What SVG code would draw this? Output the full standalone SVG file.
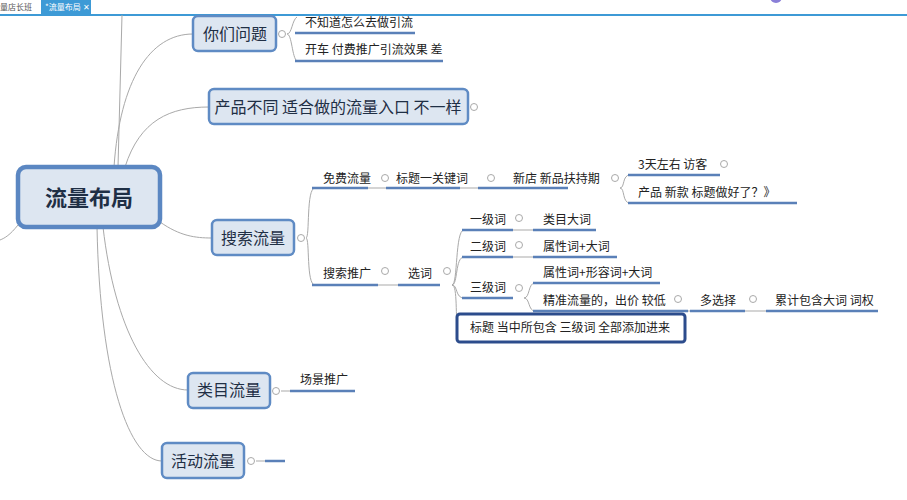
<svg xmlns="http://www.w3.org/2000/svg" width="907" height="500" viewBox="0 0 907 500">
<style>
text{font-family:"Noto Sans CJK SC",sans-serif;fill:#222}
.n{fill:#dde6f1;stroke:#5f8bc4;stroke-width:2.5}
.nt{font-size:16px;fill:#1f2f45;text-anchor:middle}
.s{font-size:12px}
.u{stroke:#5a80b8;stroke-width:2.5}
.c{fill:none;stroke:#a9a9a9;stroke-width:1}
.o{fill:#fff;stroke:#a9a9a9;stroke-width:1}
</style>
<rect width="907" height="500" fill="#fff"/>
<g id="tabs">
<text x="0" y="10" style="font-size:8px;fill:#555">量店长班</text>
<rect x="41" y="0" width="50" height="14" fill="#3d9ad6"/>
<text x="45" y="10" style="font-size:8px;fill:#fff">*流量布局 ✕</text>
<line x1="0" y1="15" x2="907" y2="15" stroke="#3d9ad6" stroke-width="2"/>
<circle cx="776" cy="-3" r="6" fill="#8a7fd8"/>
</g>
<g id="connectors" class="c">
<path d="M118 167 L122 15"/>
<path d="M114 167 C120 80 150 34 193 34"/>
<path d="M125 167 C140 120 170 107 209 107"/>
<path d="M160 222 C180 236 195 238 212 238"/>
<path d="M103 227 C115 330 150 390 188 390"/>
<path d="M97 227 C100 380 130 461 162 461"/>
<path d="M18 225 C10 235 5 238 0 240"/>
<path d="M287 34 C292 34 292 20 297 17 M287 34 C292 34 292 58 297 61"/>
<path d="M306 238 C310 238 306 188 315 188 M306 238 C310 238 306 285 315 285"/>
<path d="M368 188 L386 188 M460 188 L478 188 M378 285 L398 285"/>
<path d="M620 188 C625 188 622 175 630 175 M620 188 C625 188 622 203 630 203"/>
<path d="M452 285 C458 285 455 230 464 230 M452 285 C458 285 455 257 464 257 M452 285 C458 285 455 298 464 298 M452 285 C458 285 455 320 458 330"/>
<path d="M513 230 L533 230 M513 257 L533 257"/>
<path d="M524 298 C530 298 528 283 535 283 M524 298 C530 298 528 311 535 311"/>
<path d="M688 311 L690 311 M745 311 L766 311"/>
<path d="M281 391 L290 391 M256 461 L265 461"/>
</g>
<g id="root"><rect x="18" y="167" width="142" height="60" rx="8" fill="#dde6f1" stroke="#5b87c2" stroke-width="4.5"/><text x="89" y="206" class="nt" style="font-size:22px;font-weight:bold">流量布局</text></g>
<g id="wenti"><rect class="n" x="193" y="16" width="83" height="35" rx="5"/><text class="nt" x="235" y="40">你们问题</text><circle class="o" cx="282" cy="34" r="3.5"/></g>
<g id="w1"><text class="s" x="305" y="27">不知道怎么去做引流</text><line class="u" x1="295" y1="33" x2="415" y2="33"/></g>
<g id="w2"><text class="s" x="305" y="54">开车 付费推广引流效果 差</text><line class="u" x1="295" y1="61" x2="443" y2="61"/></g>
<g id="chanpin"><rect class="n" x="209" y="89" width="259" height="35" rx="5"/><text class="nt" x="338" y="113">产品不同   适合做的流量入口 不一样</text><circle class="o" cx="474" cy="107" r="3.5"/></g>
<g id="sousuo"><rect class="n" x="212" y="220" width="82" height="35" rx="5"/><text class="nt" x="253" y="244">搜索流量</text><circle class="o" cx="301" cy="238" r="3.5"/></g>
<g id="mianfei"><text class="s" x="323" y="183">免费流量</text><line class="u" x1="312" y1="188" x2="368" y2="188"/><circle class="o" cx="385" cy="178" r="3.5"/></g>
<g id="biaoti"><text class="s" x="396" y="183">标题一关键词</text><line class="u" x1="386" y1="188" x2="460" y2="188"/><circle class="o" cx="491" cy="178" r="3.5"/></g>
<g id="xindian"><text class="s" x="513" y="183">新店  新品扶持期</text><line class="u" x1="478" y1="188" x2="568" y2="188"/><circle class="o" cx="615" cy="178" r="3.5"/></g>
<g id="fangke"><text class="s" x="638" y="169">3天左右  访客</text><line class="u" x1="628" y1="175" x2="720" y2="175"/><circle class="o" cx="724" cy="164" r="3.5"/></g>
<g id="xinkuan"><text class="s" x="638" y="197">产品    新款     标题做好了？》</text><line class="u" x1="628" y1="203" x2="797" y2="203"/></g>
<g id="tuiguang"><text class="s" x="323" y="278">搜索推广</text><line class="u" x1="312" y1="285" x2="378" y2="285"/><circle class="o" cx="385" cy="271" r="3.5"/></g>
<g id="xuanci"><text class="s" x="408" y="278">选词</text><line class="u" x1="398" y1="285" x2="440" y2="285"/><circle class="o" cx="447" cy="271" r="3.5"/></g>
<g id="yiji"><text class="s" x="470" y="224">一级词</text><line class="u" x1="462" y1="230" x2="513" y2="230"/><circle class="o" cx="519" cy="218" r="3.5"/></g>
<g id="leimudaci"><text class="s" x="543" y="224">类目大词</text><line class="u" x1="533" y1="230" x2="596" y2="230"/></g>
<g id="erji"><text class="s" x="470" y="251">二级词</text><line class="u" x1="462" y1="257" x2="513" y2="257"/><circle class="o" cx="519" cy="245" r="3.5"/></g>
<g id="shuxing"><text class="s" x="543" y="251">属性词+大词</text><line class="u" x1="533" y1="257" x2="617" y2="257"/></g>
<g id="sanji"><text class="s" x="470" y="292">三级词</text><line class="u" x1="462" y1="298" x2="513" y2="298"/><circle class="o" cx="519" cy="288" r="3.5"/></g>
<g id="xingrong"><text class="s" x="543" y="277">属性词+形容词+大词</text><line class="u" x1="533" y1="283" x2="660" y2="283"/></g>
<g id="jingzhun"><text class="s" x="543" y="305">精准流量的，出价 较低</text><line class="u" x1="533" y1="311" x2="688" y2="311"/><circle class="o" cx="678" cy="299" r="3.5"/></g>
<g id="duo"><text class="s" x="700" y="305">多选择</text><line class="u" x1="690" y1="311" x2="745" y2="311"/><circle class="o" cx="753" cy="299" r="3.5"/></g>
<g id="leiji"><text class="s" x="775" y="305">累计包含大词 词权</text><line class="u" x1="766" y1="311" x2="878" y2="311"/></g>
<g id="box"><rect x="457" y="314" width="228" height="28" rx="3" fill="#fff" stroke="#2c4c8c" stroke-width="3"/><text class="s" x="470" y="332">标题  当中所包含   三级词  全部添加进来</text></g>
<g id="leimu"><rect class="n" x="188" y="373" width="82" height="35" rx="5"/><text class="nt" x="229" y="396">类目流量</text><circle class="o" cx="276" cy="391" r="3.5"/></g>
<g id="changjing"><text class="s" x="300" y="384">场景推广</text><line class="u" x1="290" y1="391" x2="355" y2="391"/></g>
<g id="huodong"><rect class="n" x="162" y="443" width="82" height="35" rx="5"/><text class="nt" x="203" y="467">活动流量</text><circle class="o" cx="251" cy="461" r="3.5"/><line class="u" x1="265" y1="461" x2="285" y2="461"/></g>
</svg>
